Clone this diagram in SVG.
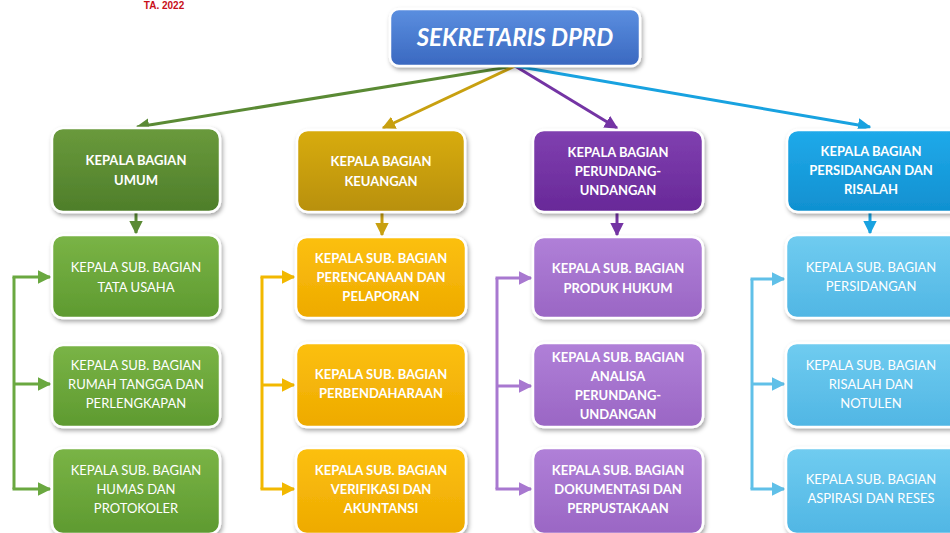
<svg xmlns="http://www.w3.org/2000/svg" width="950" height="533" viewBox="0 0 950 533">
<style>
.t{font-family:Lato,"Open Sans","Liberation Sans",sans-serif;font-size:13px;fill:#fff;text-anchor:middle}
.b{font-weight:bold}
.title{font-family:Lato,"Open Sans","Liberation Sans",sans-serif;font-size:24px;font-weight:bold;font-style:italic;fill:#fff;text-anchor:middle}
.c{fill:none;stroke-width:3}
.box{stroke:#fff;stroke-width:2.5;filter:url(#sh)}
</style>
<defs>
<filter id="sh" x="-10%" y="-10%" width="125%" height="130%">
<feDropShadow dx="1.5" dy="2.5" stdDeviation="2" flood-color="#000" flood-opacity="0.35"/>
</filter>
<linearGradient id="gTop" x1="0" y1="0" x2="0" y2="1"><stop offset="0" stop-color="#5b8fe0"/><stop offset="1" stop-color="#3a68c0"/></linearGradient>
<linearGradient id="gG1" x1="0" y1="0" x2="0" y2="1"><stop offset="0" stop-color="#6a9a3c"/><stop offset="1" stop-color="#4e7e2a"/></linearGradient>
<linearGradient id="gG2" x1="0" y1="0" x2="0" y2="1"><stop offset="0" stop-color="#7ab446"/><stop offset="1" stop-color="#5e9a30"/></linearGradient>
<linearGradient id="gY1" x1="0" y1="0" x2="0" y2="1"><stop offset="0" stop-color="#d8ac10"/><stop offset="1" stop-color="#b8900a"/></linearGradient>
<linearGradient id="gY2" x1="0" y1="0" x2="0" y2="1"><stop offset="0" stop-color="#fcc010"/><stop offset="1" stop-color="#eeaa00"/></linearGradient>
<linearGradient id="gP1" x1="0" y1="0" x2="0" y2="1"><stop offset="0" stop-color="#8040b0"/><stop offset="1" stop-color="#682898"/></linearGradient>
<linearGradient id="gP2" x1="0" y1="0" x2="0" y2="1"><stop offset="0" stop-color="#b080d8"/><stop offset="1" stop-color="#9a66c4"/></linearGradient>
<linearGradient id="gB1" x1="0" y1="0" x2="0" y2="1"><stop offset="0" stop-color="#20aaea"/><stop offset="1" stop-color="#1090d0"/></linearGradient>
<linearGradient id="gB2" x1="0" y1="0" x2="0" y2="1"><stop offset="0" stop-color="#70ccf0"/><stop offset="1" stop-color="#50b6e4"/></linearGradient>
<marker id="aG" viewBox="0 0 10 10" refX="9" refY="5" markerWidth="4.5" markerHeight="4.5" orient="auto"><path d="M0,0 L10,5 L0,10 z" fill="#5a8a34"/></marker>
<marker id="aG2" viewBox="0 0 10 10" refX="9" refY="5" markerWidth="4.5" markerHeight="4.5" orient="auto"><path d="M0,0 L10,5 L0,10 z" fill="#6aa840"/></marker>
<marker id="aY" viewBox="0 0 10 10" refX="9" refY="5" markerWidth="4.5" markerHeight="4.5" orient="auto"><path d="M0,0 L10,5 L0,10 z" fill="#c8a010"/></marker>
<marker id="aY2" viewBox="0 0 10 10" refX="9" refY="5" markerWidth="4.5" markerHeight="4.5" orient="auto"><path d="M0,0 L10,5 L0,10 z" fill="#f2b800"/></marker>
<marker id="aP" viewBox="0 0 10 10" refX="9" refY="5" markerWidth="4.5" markerHeight="4.5" orient="auto"><path d="M0,0 L10,5 L0,10 z" fill="#7434a4"/></marker>
<marker id="aP2" viewBox="0 0 10 10" refX="9" refY="5" markerWidth="4.5" markerHeight="4.5" orient="auto"><path d="M0,0 L10,5 L0,10 z" fill="#a878d0"/></marker>
<marker id="aB" viewBox="0 0 10 10" refX="9" refY="5" markerWidth="4.5" markerHeight="4.5" orient="auto"><path d="M0,0 L10,5 L0,10 z" fill="#18a2e0"/></marker>
<marker id="aB2" viewBox="0 0 10 10" refX="9" refY="5" markerWidth="4.5" markerHeight="4.5" orient="auto"><path d="M0,0 L10,5 L0,10 z" fill="#60c0e8"/></marker>
</defs>
<rect width="950" height="533" fill="#fff"/>
<text x="164" y="9" style="font-family:'Liberation Sans',Arial,sans-serif;font-size:10px;font-weight:bold;fill:#c8101a;text-anchor:middle">TA. 2022</text>

<g id="connectors">
<path class="c" stroke="#5a8a34" marker-end="url(#aG)" d="M515,66 L137,127"/>
<path class="c" stroke="#c8a010" marker-end="url(#aY)" d="M515,66 L383,128"/>
<path class="c" stroke="#7434a4" marker-end="url(#aP)" d="M515,66 L617,128"/>
<path class="c" stroke="#18a2e0" marker-end="url(#aB)" d="M515,66 L870,127"/>
<path class="c" stroke="#5a8a34" marker-end="url(#aG)" d="M136,213 L136,233"/>
<path class="c" stroke="#c8a010" marker-end="url(#aY)" d="M382,213 L382,235"/>
<path class="c" stroke="#7434a4" marker-end="url(#aP)" d="M617,213 L617,235"/>
<path class="c" stroke="#18a2e0" marker-end="url(#aB)" d="M870,213 L870,233"/>
<path class="c" stroke="#6aa840" d="M14,277 L14,489"/>
<path class="c" stroke="#6aa840" marker-end="url(#aG2)" d="M12.5,277 L50,277"/>
<path class="c" stroke="#6aa840" marker-end="url(#aG2)" d="M14,384 L50,384"/>
<path class="c" stroke="#6aa840" marker-end="url(#aG2)" d="M12.5,489 L50,489"/>
<path class="c" stroke="#f2b800" d="M262,277 L262,489"/>
<path class="c" stroke="#f2b800" marker-end="url(#aY2)" d="M260.5,277 L294,277"/>
<path class="c" stroke="#f2b800" marker-end="url(#aY2)" d="M262,385 L294,385"/>
<path class="c" stroke="#f2b800" marker-end="url(#aY2)" d="M260.5,489 L294,489"/>
<path class="c" stroke="#a878d0" d="M497,278 L497,489"/>
<path class="c" stroke="#a878d0" marker-end="url(#aP2)" d="M495.5,278 L531,278"/>
<path class="c" stroke="#a878d0" marker-end="url(#aP2)" d="M497,386 L531,386"/>
<path class="c" stroke="#a878d0" marker-end="url(#aP2)" d="M495.5,489 L531,489"/>
<path class="c" stroke="#60c0e8" d="M752,279 L752,489"/>
<path class="c" stroke="#60c0e8" marker-end="url(#aB2)" d="M750.5,279 L784,279"/>
<path class="c" stroke="#60c0e8" marker-end="url(#aB2)" d="M752,384 L784,384"/>
<path class="c" stroke="#60c0e8" marker-end="url(#aB2)" d="M750.5,489 L784,489"/>
</g>

<g id="sekretaris"><rect class="box" x="390" y="9" width="250" height="57" rx="9" fill="url(#gTop)"/><text class="title" x="515" y="46">SEKRETARIS DPRD</text></g>

<g id="umum"><rect class="box" x="52" y="128" width="168" height="84" rx="11" fill="url(#gG1)"/><text class="t b" x="136" y="165">KEPALA BAGIAN</text><text class="t b" x="136" y="185">UMUM</text></g>
<g id="tu"><rect class="box" x="52" y="235" width="168" height="83" rx="11" fill="url(#gG2)"/><text class="t" x="136" y="272">KEPALA SUB. BAGIAN</text><text class="t" x="136" y="292">TATA USAHA</text></g>
<g id="rt"><rect class="box" x="52" y="345" width="168" height="82" rx="11" fill="url(#gG2)"/><text class="t" x="136" y="370">KEPALA SUB. BAGIAN</text><text class="t" x="136" y="389">RUMAH TANGGA DAN</text><text class="t" x="136" y="408">PERLENGKAPAN</text></g>
<g id="humas"><rect class="box" x="52" y="448" width="168" height="86" rx="11" fill="url(#gG2)"/><text class="t" x="136" y="475">KEPALA SUB. BAGIAN</text><text class="t" x="136" y="494">HUMAS DAN</text><text class="t" x="136" y="513">PROTOKOLER</text></g>

<g id="keuangan"><rect class="box" x="297" y="130" width="168" height="82" rx="11" fill="url(#gY1)"/><text class="t b" x="381" y="166">KEPALA BAGIAN</text><text class="t b" x="381" y="186">KEUANGAN</text></g>
<g id="perencanaan"><rect class="box" x="296" y="237" width="170" height="81" rx="11" fill="url(#gY2)"/><text class="t b" x="381" y="263">KEPALA SUB. BAGIAN</text><text class="t b" x="381" y="282">PERENCANAAN DAN</text><text class="t b" x="381" y="301">PELAPORAN</text></g>
<g id="perbendaharaan"><rect class="box" x="296" y="343" width="170" height="84" rx="11" fill="url(#gY2)"/><text class="t b" x="381" y="379">KEPALA SUB. BAGIAN</text><text class="t b" x="381" y="398">PERBENDAHARAAN</text></g>
<g id="verifikasi"><rect class="box" x="296" y="448" width="170" height="86" rx="11" fill="url(#gY2)"/><text class="t b" x="381" y="475">KEPALA SUB. BAGIAN</text><text class="t b" x="381" y="494">VERIFIKASI DAN</text><text class="t b" x="381" y="513">AKUNTANSI</text></g>

<g id="perundangan"><rect class="box" x="533" y="130" width="170" height="82" rx="11" fill="url(#gP1)"/><text class="t b" x="618" y="157">KEPALA BAGIAN</text><text class="t b" x="618" y="176">PERUNDANG-</text><text class="t b" x="618" y="195">UNDANGAN</text></g>
<g id="produk"><rect class="box" x="533" y="237" width="170" height="81" rx="11" fill="url(#gP2)"/><text class="t b" x="618" y="273">KEPALA SUB. BAGIAN</text><text class="t b" x="618" y="293">PRODUK HUKUM</text></g>
<g id="analisa"><rect class="box" x="533" y="343" width="170" height="84" rx="11" fill="url(#gP2)"/><text class="t b" x="618" y="362">KEPALA SUB. BAGIAN</text><text class="t b" x="618" y="381">ANALISA</text><text class="t b" x="618" y="400">PERUNDANG-</text><text class="t b" x="618" y="419">UNDANGAN</text></g>
<g id="dokumentasi"><rect class="box" x="533" y="448" width="170" height="86" rx="11" fill="url(#gP2)"/><text class="t b" x="618" y="475">KEPALA SUB. BAGIAN</text><text class="t b" x="618" y="494">DOKUMENTASI DAN</text><text class="t b" x="618" y="513">PERPUSTAKAAN</text></g>

<g id="persidangan-risalah"><rect class="box" x="787" y="130" width="175" height="82" rx="11" fill="url(#gB1)"/><text class="t b" x="871" y="156">KEPALA BAGIAN</text><text class="t b" x="871" y="175">PERSIDANGAN DAN</text><text class="t b" x="871" y="194">RISALAH</text></g>
<g id="persidangan"><rect class="box" x="786" y="235" width="176" height="83" rx="11" fill="url(#gB2)"/><text class="t" x="871" y="272">KEPALA SUB. BAGIAN</text><text class="t" x="871" y="291">PERSIDANGAN</text></g>
<g id="notulen"><rect class="box" x="786" y="343" width="176" height="84" rx="11" fill="url(#gB2)"/><text class="t" x="871" y="370">KEPALA SUB. BAGIAN</text><text class="t" x="871" y="389">RISALAH DAN</text><text class="t" x="871" y="408">NOTULEN</text></g>
<g id="aspirasi"><rect class="box" x="786" y="448" width="176" height="86" rx="11" fill="url(#gB2)"/><text class="t" x="871" y="484">KEPALA SUB. BAGIAN</text><text class="t" x="871" y="503">ASPIRASI DAN RESES</text></g>
</svg>
